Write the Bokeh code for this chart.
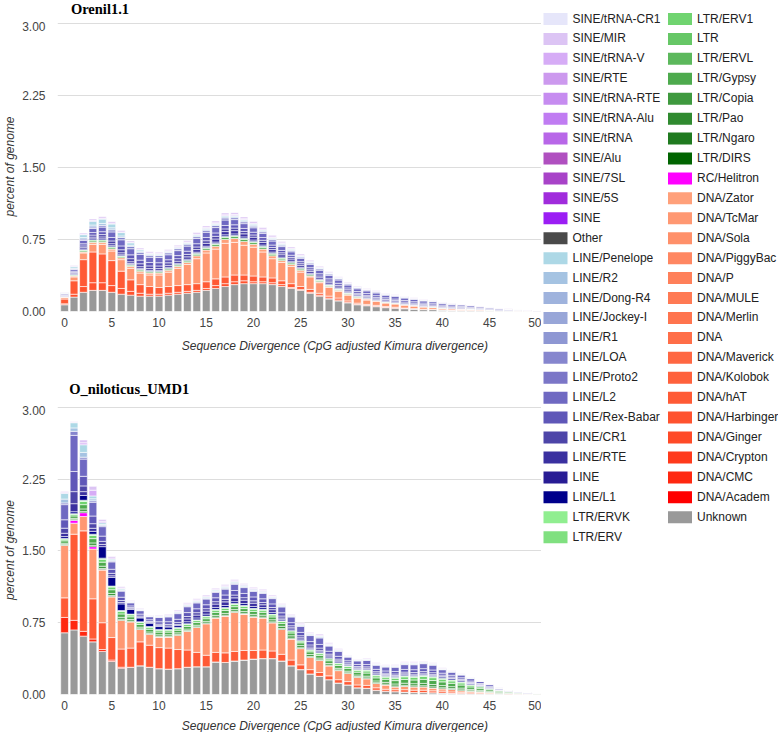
import math
from bokeh.plotting import figure
from bokeh.models import ColumnDataSource, Range1d, FixedTicker, NumeralTickFormatter
from bokeh.layouts import row, column
from bokeh.embed import file_html
from bokeh.resources import INLINE
from bokeh.core.properties import value

DIVERGENCE = list(range(51))
X_TICKS = [0, 5, 10, 15, 20, 25, 30, 35, 40, 45, 50]
Y_TICKS = [0, 0.75, 1.5, 2.25, 3.0]
TITLES = ["Orenil1.1", "O_niloticus_UMD1"]
X_TITLE = "Sequence Divergence (CpG adjusted Kimura divergence)"
Y_TITLE = "percent of genome"

CATEGORIES = [
    "SINE/tRNA-CR1", "SINE/MIR", "SINE/tRNA-V", "SINE/RTE", "SINE/tRNA-RTE", "SINE/tRNA-Alu",
    "SINE/tRNA", "SINE/Alu", "SINE/7SL", "SINE/5S", "SINE", "Other", "LINE/Penelope", "LINE/R2",
    "LINE/Dong-R4", "LINE/Jockey-I", "LINE/R1", "LINE/LOA", "LINE/Proto2", "LINE/L2",
    "LINE/Rex-Babar", "LINE/CR1", "LINE/RTE", "LINE", "LINE/L1", "LTR/ERVK", "LTR/ERV",
    "LTR/ERV1", "LTR", "LTR/ERVL", "LTR/Gypsy", "LTR/Copia", "LTR/Pao", "LTR/Ngaro", "LTR/DIRS",
    "RC/Helitron", "DNA/Zator", "DNA/TcMar", "DNA/Sola", "DNA/PiggyBac", "DNA/P", "DNA/MULE",
    "DNA/Merlin", "DNA", "DNA/Maverick", "DNA/Kolobok", "DNA/hAT", "DNA/Harbinger", "DNA/Ginger",
    "DNA/Crypton", "DNA/CMC", "DNA/Academ", "Unknown",
]
COLORS = [
    "#E6E6FA", "#DCC4F4", "#D6ACF6", "#CC99EE", "#C68CF0", "#C07CF2",
    "#B867E8", "#B050C0", "#A843C8", "#A02CDC", "#9B1EF4", "#4A4A4A", "#ADD8E6", "#A5C3E2",
    "#9FB3DD", "#98A6D8", "#8E97D3", "#8686CE", "#7B76C7", "#6F69C2",
    "#5F57B8", "#4D45A8", "#3A30A0", "#281C94", "#00008B", "#90EE90", "#80E080",
    "#70D470", "#66C766", "#5CB85C", "#4DAA4D", "#3E993E", "#2F8A2F", "#1F7A1F", "#006400",
    "#FF00FF", "#FFA07A", "#FF9872", "#FF906A", "#FF8762", "#FF805A", "#FF7A54",
    "#FF744E", "#FF6E48", "#FF6742", "#FF613C", "#FF5A35", "#FF522E", "#FF4A27",
    "#FF3A1C", "#FF2810", "#FF0000", "#999999",
]

# ---------------- Orenil1.1 (percent of genome per divergence bin) ----------------
OR_UNKNOWN = [
    0.07, 0.15, 0.20, 0.22, 0.22, 0.20, 0.18, 0.17, 0.16, 0.16,
    0.16, 0.17, 0.18, 0.19, 0.20, 0.22, 0.24, 0.26, 0.28, 0.29,
    0.29, 0.29, 0.28, 0.26, 0.24, 0.22, 0.19, 0.16, 0.13, 0.11,
    0.09, 0.07, 0.06, 0.05, 0.04, 0.035, 0.03, 0.025, 0.02, 0.02,
    0.015, 0.012, 0.01, 0.01, 0.008, 0.006, 0.005, 0.004, 0.003, 0.002,
    0.001]
OR_DNA_HAT = [
    0.05, 0.14, 0.28, 0.32, 0.30, 0.26, 0.18, 0.12, 0.09, 0.08,
    0.07, 0.07, 0.07, 0.07, 0.07, 0.07, 0.07, 0.07, 0.07, 0.06,
    0.06, 0.05, 0.05, 0.04, 0.04, 0.03, 0.03, 0.02, 0.02, 0.02,
    0.015, 0.012, 0.01, 0.01, 0.008, 0.007, 0.006, 0.005, 0.004, 0.004,
    0.003, 0.003, 0.002, 0.002, 0.002, 0, 0, 0, 0, 0,
    0]
OR_DNA_HARBINGER = [
    0.01, 0.03, 0.06, 0.08, 0.08, 0.07, 0.06, 0.04, 0.03, 0.02,
    0.02, 0.02, 0.02, 0.02, 0.02, 0.02, 0.03, 0.03, 0.03, 0.03,
    0.02, 0.02, 0.02, 0.02, 0.01, 0.01, 0.01, 0.01, 0.01, 0.01,
    0.005, 0.005, 0.004, 0.004, 0.003, 0.003, 0, 0, 0, 0,
    0, 0, 0, 0, 0, 0, 0, 0, 0, 0,
    0]
OR_DNA_TCMAR = [
    0.02, 0.04, 0.07, 0.08, 0.10, 0.10, 0.12, 0.12, 0.12, 0.12,
    0.13, 0.15, 0.18, 0.21, 0.26, 0.30, 0.31, 0.35, 0.34, 0.31,
    0.30, 0.26, 0.20, 0.19, 0.18, 0.15, 0.13, 0.11, 0.09, 0.07,
    0.06, 0.05, 0.045, 0.045, 0.039, 0.035, 0.032, 0.028, 0.024, 0.02,
    0.016, 0.014, 0.013, 0.01, 0.009, 0.007, 0.006, 0.005, 0.003, 0.002,
    0.001]
OR_DNA_ZATOR = [
    0, 0.01, 0.01, 0.02, 0.02, 0.02, 0.02, 0.02, 0.02, 0.02,
    0.02, 0.02, 0.02, 0.02, 0.03, 0.03, 0.03, 0.04, 0.04, 0.04,
    0.03, 0.03, 0.03, 0.02, 0.02, 0.02, 0.01, 0.01, 0.01, 0.01,
    0.01, 0.01, 0.01, 0, 0, 0, 0, 0, 0, 0,
    0, 0, 0, 0, 0, 0, 0, 0, 0, 0,
    0]
OR_LTR_GYPSY = [
    0.003, 0.008, 0.012, 0.015, 0.015, 0.014, 0.012, 0.012, 0.012, 0.012,
    0.012, 0.013, 0.014, 0.015, 0.016, 0.017, 0.018, 0.02, 0.02, 0.02,
    0.019, 0.018, 0.017, 0.016, 0.015, 0.013, 0.012, 0.011, 0.01, 0.009,
    0.008, 0.007, 0.006, 0.006, 0.005, 0.005, 0.007, 0.006, 0.005, 0.005,
    0.004, 0.003, 0.003, 0.003, 0.002, 0.002, 0, 0, 0, 0,
    0]
OR_LTR_ERV1 = [
    0.002, 0.005, 0.008, 0.01, 0.01, 0.01, 0.008, 0.008, 0.007, 0.007,
    0.007, 0.008, 0.008, 0.009, 0.01, 0.01, 0.011, 0.012, 0.012, 0.012,
    0.011, 0.011, 0.01, 0.01, 0.009, 0.008, 0.007, 0.006, 0.006, 0.005,
    0.005, 0.004, 0.004, 0.003, 0.003, 0.003, 0, 0, 0, 0,
    0, 0, 0, 0, 0, 0, 0, 0, 0, 0,
    0]
OR_LINE_L1 = [
    0.002, 0.006, 0.01, 0.012, 0.012, 0.012, 0.011, 0.01, 0.01, 0.01,
    0.01, 0.01, 0.01, 0.011, 0.012, 0.013, 0.014, 0.016, 0.016, 0.015,
    0.014, 0.013, 0.012, 0.011, 0.01, 0.01, 0.009, 0.008, 0.008, 0.007,
    0.006, 0.006, 0.005, 0.005, 0.004, 0.004, 0.004, 0.003, 0.003, 0.003,
    0.002, 0.002, 0.002, 0.002, 0, 0, 0, 0, 0, 0,
    0]
OR_LINE_RTE = [
    0.005, 0.01, 0.015, 0.018, 0.02, 0.02, 0.02, 0.018, 0.018, 0.018,
    0.018, 0.02, 0.022, 0.024, 0.027, 0.03, 0.032, 0.034, 0.034, 0.032,
    0.03, 0.028, 0.026, 0.024, 0.022, 0.02, 0.018, 0.017, 0.016, 0.015,
    0.013, 0.012, 0.011, 0.01, 0.009, 0.009, 0.008, 0.008, 0.007, 0.006,
    0.006, 0.005, 0.005, 0.004, 0.004, 0.003, 0.003, 0.002, 0, 0,
    0]
OR_LINE_CR1 = [
    0.005, 0.009, 0.018, 0.021, 0.024, 0.029, 0.032, 0.032, 0.030, 0.028,
    0.027, 0.026, 0.026, 0.026, 0.027, 0.027, 0.028, 0.028, 0.027, 0.025,
    0.023, 0.022, 0.021, 0.020, 0.018, 0.017, 0.018, 0.018, 0.018, 0.017,
    0.015, 0.014, 0.014, 0.014, 0.014, 0.013, 0.012, 0.012, 0.011, 0.010,
    0.009, 0.008, 0.008, 0.007, 0.006, 0.005, 0, 0, 0, 0,
    0]
OR_LINE_REX = [
    0.006, 0.012, 0.022, 0.026, 0.030, 0.036, 0.040, 0.040, 0.038, 0.035,
    0.034, 0.032, 0.032, 0.033, 0.034, 0.034, 0.035, 0.036, 0.034, 0.031,
    0.029, 0.028, 0.026, 0.025, 0.022, 0.021, 0.022, 0.023, 0.022, 0.021,
    0.019, 0.018, 0.018, 0.018, 0.017, 0.016, 0.016, 0.015, 0.014, 0.013,
    0.012, 0.011, 0.010, 0.009, 0.008, 0.007, 0.008, 0.006, 0.004, 0.004,
    0.002]
OR_LINE_L2 = [
    0.010, 0.018, 0.036, 0.042, 0.048, 0.058, 0.064, 0.064, 0.060, 0.055,
    0.054, 0.052, 0.052, 0.053, 0.054, 0.054, 0.056, 0.057, 0.054, 0.050,
    0.046, 0.044, 0.042, 0.040, 0.036, 0.034, 0.035, 0.037, 0.036, 0.034,
    0.030, 0.029, 0.028, 0.028, 0.027, 0.026, 0.025, 0.023, 0.022, 0.021,
    0.018, 0.017, 0.015, 0.014, 0.012, 0.012, 0.012, 0.009, 0.008, 0.006,
    0.004]
OR_LINE_LOA = [
    0.003, 0.007, 0.014, 0.016, 0.018, 0.022, 0.024, 0.024, 0.022, 0.020,
    0.020, 0.020, 0.020, 0.020, 0.019, 0.021, 0.021, 0.021, 0.020, 0.019,
    0.017, 0.016, 0.016, 0.015, 0.014, 0.013, 0.013, 0.014, 0.014, 0.013,
    0.011, 0.011, 0.010, 0.010, 0.010, 0.010, 0.009, 0.008, 0.008, 0.008,
    0.007, 0.006, 0.005, 0.004, 0.004, 0, 0, 0, 0, 0,
    0]
OR_LINE_R2 = [
    0.003, 0.008, 0.015, 0.02, 0.02, 0.02, 0.016, 0.012, 0.01, 0.008,
    0.008, 0.008, 0.008, 0.009, 0.01, 0.01, 0.011, 0.012, 0.012, 0.012,
    0.011, 0.01, 0.01, 0.009, 0.008, 0.007, 0.006, 0.006, 0.005, 0.005,
    0.004, 0.004, 0.003, 0.003, 0.003, 0.002, 0.002, 0.002, 0.002, 0.001,
    0, 0, 0, 0, 0, 0, 0, 0, 0, 0,
    0]
OR_LINE_PENELOPE = [
    0.005, 0.015, 0.03, 0.04, 0.045, 0.04, 0.035, 0.025, 0.015, 0.01,
    0.008, 0.008, 0.008, 0.008, 0.01, 0.01, 0.01, 0.012, 0.012, 0.012,
    0.01, 0.01, 0.01, 0.008, 0.008, 0.007, 0.006, 0.005, 0.005, 0.004,
    0.004, 0.003, 0.003, 0.003, 0.002, 0.002, 0.002, 0.002, 0.001, 0.001,
    0, 0, 0, 0, 0, 0, 0, 0, 0, 0,
    0]
OR_SINE_TRNAV = [
    0.002, 0.004, 0.006, 0.008, 0.008, 0.008, 0.007, 0.006, 0.006, 0.006,
    0.006, 0.006, 0.006, 0.007, 0.007, 0.008, 0.008, 0.009, 0.009, 0.009,
    0.008, 0.008, 0.007, 0.007, 0.006, 0.006, 0.005, 0.005, 0.004, 0.004,
    0.004, 0.003, 0.003, 0.003, 0.002, 0.002, 0.002, 0.002, 0.002, 0.001,
    0, 0, 0, 0, 0, 0, 0, 0, 0, 0,
    0]
OR_SINE_MIR = [
    0.004, 0.008, 0.012, 0.015, 0.016, 0.016, 0.015, 0.014, 0.013, 0.013,
    0.013, 0.013, 0.014, 0.015, 0.016, 0.017, 0.018, 0.019, 0.019, 0.018,
    0.018, 0.017, 0.016, 0.015, 0.014, 0.013, 0.012, 0.011, 0.01, 0.009,
    0.008, 0.007, 0.006, 0.006, 0.005, 0.005, 0.004, 0.004, 0.004, 0.003,
    0.004, 0.004, 0.003, 0.003, 0.003, 0.003, 0.002, 0.002, 0.001, 0.001,
    0.001]

# ---------------- O_niloticus_UMD1 ----------------
NI_UNKNOWN = [
    0.645, 0.675, 0.61, 0.55, 0.45, 0.345, 0.275, 0.285, 0.30, 0.285,
    0.27, 0.265, 0.27, 0.285, 0.29, 0.29, 0.34, 0.335, 0.35, 0.36,
    0.37, 0.375, 0.375, 0.35, 0.30, 0.26, 0.215, 0.19, 0.155, 0.12,
    0.10, 0.07, 0.065, 0.045, 0.035, 0.03, 0.025, 0.02, 0.02, 0.018,
    0.015, 0.012, 0.01, 0.008, 0.006, 0.005, 0.004, 0.003, 0.002, 0.002,
    0.001]
NI_DNA_CMC = [
    0.16, 0.10, 0.05, 0.03, 0.02, 0.015, 0.01, 0, 0, 0,
    0, 0, 0, 0, 0, 0, 0, 0, 0, 0,
    0, 0, 0, 0, 0, 0, 0, 0, 0, 0,
    0, 0, 0, 0, 0, 0, 0, 0, 0, 0,
    0, 0, 0, 0, 0, 0, 0, 0, 0, 0,
    0]
NI_DNA_HAT = [
    0.205, 0.90, 1.05, 0.42, 0.28, 0.235, 0.19, 0.20, 0.25, 0.23,
    0.22, 0.22, 0.20, 0.18, 0.15, 0.12, 0.10, 0.10, 0.10, 0.10,
    0.09, 0.09, 0.08, 0.07, 0.06, 0.05, 0.045, 0.04, 0.04, 0.035,
    0.035, 0.03, 0.03, 0.025, 0.02, 0.02, 0.025, 0.025, 0.025, 0.02,
    0.02, 0.015, 0.012, 0.01, 0.008, 0.006, 0.004, 0.003, 0, 0,
    0]
NI_DNA_TCMAR = [
    0.55, 0.115, 0.15, 0.52, 0.55, 0.425, 0.30, 0.275, 0.13, 0.115,
    0.11, 0.115, 0.15, 0.195, 0.26, 0.33, 0.36, 0.385, 0.41, 0.38,
    0.35, 0.335, 0.295, 0.26, 0.22, 0.17, 0.13, 0.125, 0.105, 0.095,
    0.085, 0.08, 0.07, 0.045, 0.045, 0.03, 0.035, 0.035, 0.035, 0.03,
    0.025, 0.025, 0.018, 0.015, 0.012, 0.009, 0.006, 0.005, 0.005, 0.003,
    0.002]
NI_RC_HELITRON = [
    0, 0.03, 0.04, 0.025, 0.005, 0.003, 0.002, 0, 0, 0,
    0, 0, 0, 0, 0, 0, 0, 0, 0, 0,
    0, 0, 0, 0, 0, 0, 0, 0, 0, 0,
    0, 0, 0, 0, 0, 0, 0, 0, 0, 0,
    0, 0, 0, 0, 0, 0, 0, 0, 0, 0,
    0]
NI_LTR_DIRS = [
    0.007, 0.007, 0.013, 0.013, 0.012, 0.011, 0.01, 0.008, 0.008, 0.008,
    0.008, 0.008, 0.008, 0.008, 0.008, 0.008, 0.009, 0.009, 0.009, 0.009,
    0.009, 0.009, 0.009, 0.009, 0.009, 0.009, 0.008, 0.008, 0.008, 0.008,
    0.008, 0.008, 0.009, 0.009, 0.009, 0.01, 0.011, 0.011, 0.012, 0.012,
    0.011, 0.01, 0.009, 0.007, 0.006, 0.005, 0, 0, 0, 0,
    0]
NI_LTR_COPIA = [
    0.014, 0.014, 0.026, 0.026, 0.024, 0.022, 0.02, 0.016, 0.016, 0.016,
    0.016, 0.016, 0.016, 0.016, 0.016, 0.016, 0.018, 0.018, 0.018, 0.018,
    0.018, 0.02, 0.022, 0.024, 0.024, 0.022, 0.02, 0.018, 0.016, 0.016,
    0.016, 0.016, 0.018, 0.018, 0.018, 0.02, 0.022, 0.022, 0.024, 0.024,
    0.022, 0.02, 0.018, 0.014, 0.012, 0.009, 0.006, 0.004, 0, 0,
    0]
NI_LTR_GYPSY = [
    0.025, 0.025, 0.045, 0.045, 0.042, 0.039, 0.035, 0.028, 0.028, 0.028,
    0.028, 0.028, 0.028, 0.028, 0.028, 0.028, 0.031, 0.031, 0.031, 0.031,
    0.031, 0.03, 0.03, 0.03, 0.03, 0.029, 0.028, 0.028, 0.029, 0.029,
    0.029, 0.029, 0.032, 0.032, 0.032, 0.035, 0.039, 0.039, 0.042, 0.042,
    0.039, 0.035, 0.032, 0.025, 0.021, 0.016, 0.014, 0.01, 0.008, 0.005,
    0.004]
NI_LTR_ERV1 = [
    0.017, 0.017, 0.033, 0.033, 0.03, 0.028, 0.025, 0.02, 0.02, 0.02,
    0.02, 0.02, 0.02, 0.02, 0.02, 0.02, 0.023, 0.023, 0.023, 0.023,
    0.023, 0.022, 0.021, 0.02, 0.02, 0.018, 0.017, 0.018, 0.019, 0.019,
    0.019, 0.019, 0.022, 0.022, 0.022, 0.025, 0.028, 0.028, 0.03, 0.03,
    0.028, 0.025, 0.022, 0.018, 0.015, 0.011, 0.007, 0.005, 0.003, 0,
    0]
NI_LTR_ERVK = [
    0.007, 0.007, 0.013, 0.013, 0.012, 0.01, 0.01, 0.008, 0.008, 0.008,
    0.008, 0.008, 0.008, 0.008, 0.008, 0.008, 0.009, 0.009, 0.009, 0.009,
    0.009, 0.009, 0.008, 0.007, 0.007, 0.007, 0.007, 0.008, 0.008, 0.008,
    0.008, 0.008, 0.009, 0.009, 0.009, 0.01, 0.01, 0.01, 0.012, 0.012,
    0.01, 0.01, 0.009, 0.006, 0.006, 0, 0, 0, 0, 0,
    0]
NI_LINE_L1 = [
    0.02, 0.02, 0.05, 0.03, 0.12, 0.09, 0.07, 0.05, 0.04, 0.035,
    0.03, 0.025, 0.02, 0.02, 0.02, 0.02, 0.02, 0.02, 0.02, 0.02,
    0.02, 0.018, 0.018, 0.016, 0.015, 0.014, 0.013, 0.012, 0.012, 0.011,
    0.01, 0.01, 0.01, 0.01, 0.01, 0.01, 0.011, 0.011, 0.012, 0.012,
    0.013, 0.013, 0.012, 0.01, 0.008, 0.006, 0.004, 0.003, 0.002, 0.001,
    0.001]
NI_LINE_RTE = [
    0.035, 0.084, 0.04, 0.032, 0.022, 0.017, 0.014, 0.007, 0.008, 0.007,
    0.01, 0.011, 0.013, 0.03, 0.03, 0.032, 0.035, 0.038, 0.04, 0.036,
    0.034, 0.03, 0.028, 0.014, 0.013, 0.014, 0.014, 0.015, 0.012, 0.012,
    0.009, 0.009, 0.01, 0.01, 0.009, 0.01, 0.011, 0.012, 0.012, 0.011,
    0.008, 0.007, 0.007, 0.006, 0.004, 0.004, 0.002, 0, 0, 0,
    0]
NI_LINE_CR1 = [
    0.053, 0.126, 0.06, 0.048, 0.033, 0.026, 0.021, 0.011, 0.012, 0.011,
    0.015, 0.017, 0.02, 0.025, 0.025, 0.025, 0.025, 0.027, 0.029, 0.026,
    0.025, 0.023, 0.023, 0.02, 0.02, 0.021, 0.021, 0.023, 0.018, 0.017,
    0.013, 0.013, 0.014, 0.014, 0.014, 0.015, 0.017, 0.017, 0.017, 0.017,
    0.012, 0.011, 0.01, 0.008, 0.006, 0.006, 0, 0, 0, 0,
    0]
NI_LINE_REX = [
    0.088, 0.21, 0.10, 0.08, 0.055, 0.043, 0.035, 0.018, 0.02, 0.018,
    0.025, 0.028, 0.033, 0.041, 0.041, 0.041, 0.041, 0.045, 0.048, 0.044,
    0.041, 0.039, 0.038, 0.034, 0.033, 0.035, 0.035, 0.038, 0.03, 0.029,
    0.021, 0.021, 0.024, 0.024, 0.023, 0.025, 0.028, 0.029, 0.029, 0.028,
    0.02, 0.018, 0.016, 0.014, 0.011, 0.01, 0.008, 0.005, 0.005, 0.004,
    0.003]
NI_LINE_L2 = [
    0.158, 0.378, 0.18, 0.144, 0.099, 0.077, 0.063, 0.032, 0.036, 0.032,
    0.045, 0.05, 0.059, 0.061, 0.061, 0.059, 0.056, 0.061, 0.065, 0.061,
    0.057, 0.056, 0.055, 0.061, 0.059, 0.063, 0.063, 0.068, 0.054, 0.052,
    0.038, 0.038, 0.043, 0.043, 0.041, 0.045, 0.05, 0.052, 0.052, 0.05,
    0.036, 0.032, 0.029, 0.025, 0.021, 0.02, 0.013, 0.008, 0.006, 0.006,
    0.004]
NI_LINE_LOA = [
    0.018, 0.042, 0.02, 0.016, 0.011, 0.009, 0.007, 0.004, 0.004, 0.004,
    0.005, 0.006, 0.007, 0.008, 0.008, 0.008, 0.008, 0.009, 0.01, 0.009,
    0.008, 0.008, 0.008, 0.007, 0.007, 0.007, 0.007, 0.008, 0.006, 0.006,
    0.004, 0.004, 0.005, 0.005, 0.005, 0.005, 0.006, 0.006, 0.006, 0.006,
    0.004, 0.004, 0.003, 0.003, 0, 0, 0, 0, 0, 0,
    0]
NI_LINE_R2 = [
    0.04, 0.036, 0.05, 0.02, 0.012, 0.008, 0.008, 0.004, 0.004, 0.003,
    0.004, 0.005, 0.006, 0.006, 0.006, 0.006, 0.006, 0.007, 0.007, 0.006,
    0.006, 0.006, 0.006, 0.005, 0.005, 0.005, 0.005, 0.006, 0.005, 0.004,
    0.003, 0.003, 0.004, 0.004, 0.004, 0.004, 0.004, 0.004, 0.004, 0.004,
    0.003, 0.003, 0.002, 0.002, 0, 0, 0, 0, 0, 0,
    0]
NI_LINE_PENELOPE = [
    0.06, 0.054, 0.08, 0.03, 0.018, 0.012, 0.012, 0.006, 0.006, 0.005,
    0.006, 0.007, 0.008, 0.01, 0.01, 0.01, 0.01, 0.011, 0.011, 0.01,
    0.01, 0.009, 0.008, 0.008, 0.007, 0.008, 0.008, 0.008, 0.007, 0.007,
    0.005, 0.005, 0.005, 0.005, 0.005, 0.006, 0.007, 0.007, 0.007, 0.006,
    0.005, 0.004, 0.004, 0.003, 0.002, 0, 0, 0, 0, 0,
    0]
NI_SINE_TRNAV = [
    0.008, 0.004, 0.02, 0.06, 0.015, 0.011, 0.007, 0.004, 0.004, 0.003,
    0.004, 0.005, 0.006, 0.008, 0.008, 0.008, 0.008, 0.009, 0.009, 0.008,
    0.008, 0.008, 0.006, 0.006, 0.005, 0.007, 0.006, 0.008, 0.006, 0.005,
    0.003, 0.003, 0.004, 0.004, 0.004, 0.004, 0.005, 0.005, 0.005, 0.004,
    0.004, 0.003, 0.003, 0.003, 0, 0, 0, 0, 0, 0,
    0]
NI_SINE_MIR = [
    0.012, 0.006, 0.03, 0.04, 0.02, 0.016, 0.011, 0.006, 0.006, 0.004,
    0.006, 0.008, 0.01, 0.011, 0.011, 0.011, 0.011, 0.013, 0.013, 0.011,
    0.011, 0.012, 0.01, 0.01, 0.008, 0.01, 0.008, 0.011, 0.01, 0.008,
    0.004, 0.004, 0.007, 0.007, 0.007, 0.006, 0.008, 0.008, 0.007, 0.006,
    0.005, 0.005, 0.004, 0.004, 0.003, 0.003, 0.002, 0.002, 0.001, 0.001,
    0.001]

ORENIL = {
    "Unknown": OR_UNKNOWN, "DNA/Harbinger": OR_DNA_HARBINGER, "DNA/hAT": OR_DNA_HAT,
    "DNA/TcMar": OR_DNA_TCMAR, "DNA/Zator": OR_DNA_ZATOR, "LTR/Gypsy": OR_LTR_GYPSY,
    "LTR/ERV1": OR_LTR_ERV1, "LINE/L1": OR_LINE_L1, "LINE/RTE": OR_LINE_RTE,
    "LINE/CR1": OR_LINE_CR1, "LINE/Rex-Babar": OR_LINE_REX, "LINE/L2": OR_LINE_L2,
    "LINE/LOA": OR_LINE_LOA, "LINE/R2": OR_LINE_R2, "LINE/Penelope": OR_LINE_PENELOPE,
    "SINE/tRNA-V": OR_SINE_TRNAV, "SINE/MIR": OR_SINE_MIR,
}
NILOTICUS = {
    "Unknown": NI_UNKNOWN, "DNA/CMC": NI_DNA_CMC, "DNA/hAT": NI_DNA_HAT,
    "DNA/TcMar": NI_DNA_TCMAR, "RC/Helitron": NI_RC_HELITRON, "LTR/DIRS": NI_LTR_DIRS,
    "LTR/Copia": NI_LTR_COPIA, "LTR/Gypsy": NI_LTR_GYPSY, "LTR/ERV1": NI_LTR_ERV1,
    "LTR/ERVK": NI_LTR_ERVK, "LINE/L1": NI_LINE_L1, "LINE/RTE": NI_LINE_RTE,
    "LINE/CR1": NI_LINE_CR1, "LINE/Rex-Babar": NI_LINE_REX, "LINE/L2": NI_LINE_L2,
    "LINE/LOA": NI_LINE_LOA, "LINE/R2": NI_LINE_R2, "LINE/Penelope": NI_LINE_PENELOPE,
    "SINE/tRNA-V": NI_SINE_TRNAV, "SINE/MIR": NI_SINE_MIR,
}

SANS = "Liberation Sans"
SERIF = "Liberation Serif"
LEFT_W = 541


def make_chart(series, frame_h, b_bottom):
    p = figure(width=LEFT_W, height=frame_h + b_bottom,
               x_range=Range1d(-0.75, 50.5), y_range=Range1d(0, 3.02),
               output_backend="svg", toolbar_location=None,
               min_border_left=57, min_border_right=0,
               min_border_top=0, min_border_bottom=b_bottom)
    names = [c for c in reversed(CATEGORIES) if c in series]
    data = {"x": DIVERGENCE}
    for c in names:
        data[c] = series[c]
    src = ColumnDataSource(data)
    fills = [COLORS[CATEGORIES.index(c)] for c in names]
    p.vbar_stack(names, x="x", width=0.82, fill_color=fills,
                 line_color="white", line_width=0.6, source=src)

    p.xaxis.ticker = FixedTicker(ticks=X_TICKS)
    p.yaxis.ticker = FixedTicker(ticks=Y_TICKS)
    p.yaxis.formatter = NumeralTickFormatter(format="0.00")
    for ax in (p.xaxis[0], p.yaxis[0]):
        ax.axis_line_color = None
        ax.major_tick_line_color = None
        ax.minor_tick_line_color = None
        ax.major_tick_out = 0
        ax.major_tick_in = 0
        ax.major_label_text_font = SANS
        ax.major_label_text_font_size = "12px"
        ax.major_label_text_color = "#444444"
    p.yaxis.major_label_standoff = 12
    p.xaxis.major_label_standoff = 6
    p.yaxis.axis_label = Y_TITLE
    p.yaxis.axis_label_text_font = SANS
    p.yaxis.axis_label_text_font_style = "italic"
    p.yaxis.axis_label_text_font_size = "12px"
    p.yaxis.axis_label_text_color = "#333333"
    p.yaxis.axis_label_standoff = 2
    p.xgrid.grid_line_color = None
    p.ygrid.grid_line_color = "#dddddd"
    p.outline_line_color = None
    return p


def text_strip(h):
    t = figure(width=LEFT_W, height=h, x_range=Range1d(0, LEFT_W), y_range=Range1d(h, 0),
               output_backend="svg", toolbar_location=None, min_border=0,
               x_axis_location=None, y_axis_location=None)
    t.outline_line_color = None
    t.grid.visible = False
    return t


def add_title(t, x, y, txt):
    t.text(x=[x], y=[y], text=[txt], text_font=value(SERIF), text_font_style="bold",
           text_font_size="14.5px", text_color="#000000", text_baseline="middle")


def add_xtitle(t, y):
    t.text(x=[310], y=[y], text=[X_TITLE], text_font=value(SANS), text_font_style="italic",
           text_font_size="12px", text_color="#333333", text_align="center",
           text_baseline="middle")


t1 = text_strip(21)
add_title(t1, 15, 8, TITLES[0])
p1 = make_chart(ORENIL, 290, 20)
g1 = text_strip(74)
add_xtitle(g1, 14)
add_title(g1, 13, 57, TITLES[1])
p2 = make_chart(NILOTICUS, 289, 20)
b2 = text_strip(18)
add_xtitle(b2, 11)

# legend panel
LEG_H = 560
pl = figure(width=237, height=LEG_H, x_range=Range1d(0, 237), y_range=Range1d(LEG_H, 0),
            output_backend="svg", toolbar_location=None, min_border=0,
            x_axis_location=None, y_axis_location=None)
pl.outline_line_color = None
pl.grid.visible = False
N_FIRST = 27
leg_col = [0 if i < N_FIRST else 1 for i in range(len(CATEGORIES))]
leg_row = [i if i < N_FIRST else i - N_FIRST for i in range(len(CATEGORIES))]
sw_x = [14 if c == 0 else 138.5 for c in leg_col]
tx_x = [31 if c == 0 else 155.5 for c in leg_col]
leg_y = [18.5 + r * 19.93 for r in leg_row]
pl.rect(x=sw_x, y=leg_y, width=24, height=12, fill_color=COLORS, line_color=None)
pl.text(x=tx_x, y=[y - 0.5 for y in leg_y], text=CATEGORIES, text_font=value(SANS),
        text_font_size="12px", text_baseline="middle", text_color="#222222")

layout = row(column(t1, p1, g1, p2, b2), pl)
open("out.html", "w").write(file_html(layout, INLINE))
